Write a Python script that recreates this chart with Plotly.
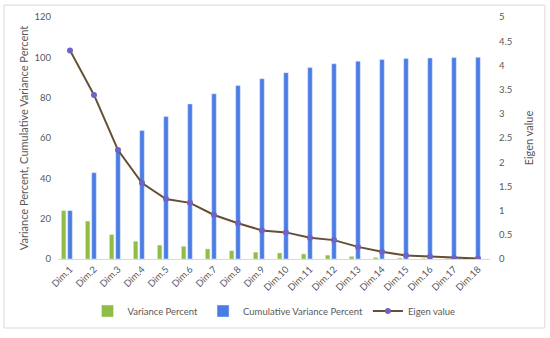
import plotly.graph_objects as go

# data
dims = ["Dim.%d" % i for i in range(1, 19)]
variance_pct = [24.0, 18.8, 12.1, 8.8, 6.9, 6.3, 5.0, 4.1, 3.4, 3.0, 2.5, 1.9, 1.3, 0.8, 0.5, 0.3, 0.2, 0.1]
cumulative_pct = [24.0, 42.8, 54.9, 63.7, 70.6, 76.9, 81.9, 86.0, 89.4, 92.4, 94.9, 96.8, 98.1, 98.9, 99.4, 99.7, 99.9, 100.0]
eigen = [4.31, 3.39, 2.25, 1.57, 1.24, 1.16, 0.91, 0.74, 0.59, 0.55, 0.44, 0.39, 0.25, 0.15, 0.07, 0.05, 0.02, 0.01]

GREEN = "#8fbd45"
BLUE = "#4a7ce6"
LINE = "#645033"
MARKER = "#6f63c9"
TXT = "#595959"
FONT = "Lato"

fig = go.Figure()

fig.add_trace(go.Bar(
    x=dims, y=variance_pct, name="Variance Percent",
    marker_color=GREEN, width=0.19, offset=-0.36,
))
fig.add_trace(go.Bar(
    x=dims, y=cumulative_pct, name="Cumulative Variance Percent",
    marker_color=BLUE, width=0.19, offset=-0.095,
))
fig.add_trace(go.Scatter(
    x=dims, y=eigen, name="Eigen value", yaxis="y2",
    mode="lines+markers",
    line=dict(color=LINE, width=2),
    marker=dict(color=MARKER, size=6),
))

fig.update_layout(
    width=550, height=338,
    margin=dict(l=58, r=60, t=17, b=75),
    paper_bgcolor="white", plot_bgcolor="white",
    barmode="overlay",
    font=dict(family=FONT, size=9.5, color=TXT),
    showlegend=True,
    legend=dict(
        orientation="h", x=0.5, xanchor="center",
        y=-0.215, yanchor="middle",
        font=dict(size=9.5, color=TXT),
        itemwidth=30, tracegroupgap=0,
    ),
    xaxis=dict(
        range=[-0.5, 17.5], tickangle=-45, automargin=False,
        showline=True, linecolor="#d9d9d9", linewidth=1,
        ticks="", showgrid=False,
    ),
    yaxis=dict(
        range=[0, 120], dtick=20, showgrid=False, zeroline=False,
        ticks="", automargin=False, ticklabelstandoff=6,
        title=dict(text="Variance Percent, Cumulative Variance Percent",
                   font=dict(size=11, color=TXT), standoff=3),
    ),
    yaxis2=dict(
        range=[0, 5], dtick=0.5, overlaying="y", side="right",
        showgrid=False, zeroline=False, ticks="", automargin=False,
        ticklabelstandoff=8,
        title=dict(text="Eigen value", font=dict(size=11, color=TXT), standoff=14),
    ),
    shapes=[dict(
        type="rect", xref="paper", yref="paper",
        x0=-0.125, x1=1.127, y0=-0.285, y1=1.049,
        line=dict(color="#d9d9d9", width=1), fillcolor="rgba(0,0,0,0)",
    )],
)

# page body has a default margin, drop it so the figure sits at (0, 0)
fig.write_html("out.html", config={"displayModeBar": False},
               post_script="document.body.style.margin='0';")
